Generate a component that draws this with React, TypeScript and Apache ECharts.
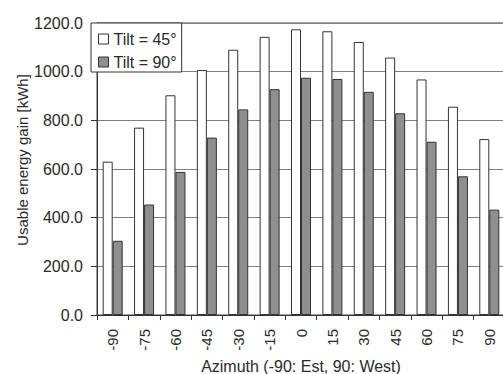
import React, { useEffect, useRef } from "react";
import * as echarts from "echarts";

const categories = ["-90", "-75", "-60", "-45", "-30", "-15", "0", "15", "30", "45", "60", "75", "90"];
const tilt45 = [630, 770, 903, 1007, 1090, 1143, 1174, 1166, 1122, 1058, 968, 856, 723];
const tilt90 = [305, 454, 588, 729, 845, 928, 975, 970, 917, 829, 712, 570, 433];
const yTicks = [0, 200, 400, 600, 800, 1000, 1200];

const FONT = "'Liberation Sans', Arial, Helvetica, sans-serif";
const TXT = "#2a2a2a";

export default function App() {
  const ref = useRef<HTMLDivElement>(null);
  useEffect(() => {
    if (!ref.current) return;
    const chart = echarts.init(ref.current, undefined, { renderer: "svg" });
    chart.setOption({
      animation: false,
      backgroundColor: "#fff",
      textStyle: { fontFamily: FONT, color: TXT },
      grid: {
        left: 97,
        top: 23,
        width: 408,
        height: 292,
        show: true,
        borderColor: "#444",
        borderWidth: 1,
        backgroundColor: "transparent",
        containLabel: false,
        outerBoundsMode: "none",
      },
      legend: {
        left: 91,
        top: 23,
        orient: "vertical",
        backgroundColor: "#fff",
        borderColor: "#333",
        borderWidth: 1,
        padding: [8, 5, 2, 7],
        itemGap: 7,
        itemWidth: 10,
        itemHeight: 10,
        textStyle: { fontFamily: FONT, fontSize: 16, color: TXT },
        data: [
          { name: "Tilt = 45°", icon: "rect", itemStyle: { color: "#fff", borderColor: "#333", borderWidth: 1 } },
          { name: "Tilt = 90°", icon: "rect", itemStyle: { color: "#8f8f8f", borderColor: "#333", borderWidth: 1 } },
        ],
      },
      xAxis: {
        type: "category",
        data: categories,
        name: "Azimuth (-90: Est, 90: West)",
        nameLocation: "middle",
        nameGap: 42,
        nameTextStyle: { fontFamily: FONT, fontSize: 16, lineHeight: 16, color: TXT },
        axisLine: { lineStyle: { color: "#333", width: 1 } },
        axisTick: { show: true, length: 5, lineStyle: { color: "#333" } },
        axisLabel: { rotate: 90, fontSize: 15, color: TXT, margin: 14, fontFamily: FONT },
        splitLine: { show: false },
      },
      yAxis: {
        type: "value",
        min: yTicks[0],
        max: yTicks[yTicks.length - 1],
        interval: 200,
        axisLine: { show: true, lineStyle: { color: "#333", width: 1 } },
        axisTick: { show: true, length: 6, lineStyle: { color: "#333" } },
        axisLabel: {
          fontSize: 16,
          color: TXT,
          margin: 14,
          fontFamily: FONT,
          formatter: (v: number) => v.toFixed(1),
        },
        splitLine: { show: true, lineStyle: { color: "#808080", width: 1 } },
      },
      graphic: [
        {
          type: "text",
          x: 22,
          y: 160,
          rotation: Math.PI / 2,
          style: {
            text: "Usable energy gain [kWh]",
            fontFamily: FONT,
            fontSize: 15,
            fill: TXT,
            textAlign: "center",
            textVerticalAlign: "middle",
          },
        },
      ],
      series: [
        {
          name: "Tilt = 45°",
          type: "bar",
          data: tilt45,
          barWidth: 10,
          barGap: "0%",
          itemStyle: { color: "#fff", borderColor: "#333", borderWidth: 1 },
        },
        {
          name: "Tilt = 90°",
          type: "bar",
          data: tilt90,
          barWidth: 10,
          barGap: "0%",
          itemStyle: { color: "#8f8f8f", borderColor: "#333", borderWidth: 1 },
        },
      ],
    });
    return () => chart.dispose();
  }, []);
  return <div ref={ref} style={{ width: 503, height: 374, position: "absolute", left: 0, top: 0 }} />;
}
